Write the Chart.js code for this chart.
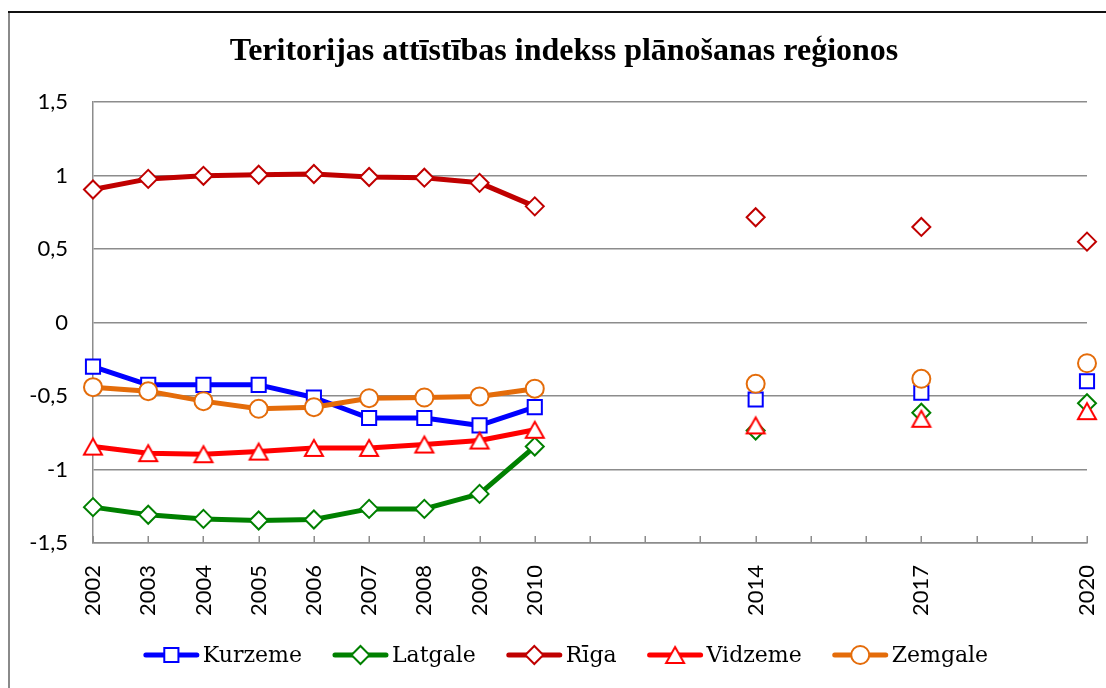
<!DOCTYPE html>
<html>
<head>
<meta charset="utf-8">
<script src="https://cdn.jsdelivr.net/npm/chart.js@4/dist/chart.umd.min.js"></script>
<style>
  html, body { margin: 0; padding: 0; background: #ffffff; }
  #wrap { width: 1106px; height: 688px; }
</style>
</head>
<body>
<div id="wrap"><canvas id="c" width="1106" height="688"></canvas></div>
<script>
// ---------- data ----------
const years = ['2002','2003','2004','2005','2006','2007','2008','2009','2010',
               '2011','2012','2013','2014','2015','2016','2017','2018','2019','2020'];
const tickLabels = ['2002','2003','2004','2005','2006','2007','2008','2009','2010','2014','2017','2020'];
const seriesNames = ['Kurzeme','Latgale','Rīga','Vidzeme','Zemgale'];

const kurzeme = [-0.30,-0.424,-0.424,-0.424,-0.51,-0.65,-0.65,-0.70,-0.576, null,null,null, -0.524, null,null, -0.478, null,null, -0.40];
const latgale = [-1.256,-1.308,-1.336,-1.347,-1.34,-1.268,-1.268,-1.166,-0.844, null,null,null, -0.735, null,null, -0.614, null,null, -0.549];
const riga    = [0.905,0.977,0.998,1.005,1.01,0.99,0.985,0.95,0.79, null,null,null, 0.716, null,null, 0.65, null,null, 0.55];
const vidzeme = [-0.844,-0.889,-0.896,-0.878,-0.853,-0.853,-0.83,-0.803,-0.73, null,null,null, -0.70, null,null, -0.655, null,null, -0.603];
const zemgale = [-0.44,-0.467,-0.535,-0.587,-0.576,-0.515,-0.51,-0.503,-0.45, null,null,null, -0.417, null,null, -0.383, null,null, -0.277];

const yTicks = [-1.5,-1,-0.5,0,0.5,1,1.5];
const titleText = 'Teritorijas attīstības indekss plānošanas reģionos';

// ---------- styles ----------
const colors = ['#0000FF','#008000','#C00000','#FF0000','#E46C0A'];

function triangleMarker(color) {
  const cv = document.createElement('canvas');
  cv.width = 24; cv.height = 24;
  const g = cv.getContext('2d');
  g.beginPath();
  g.moveTo(12, 4);
  g.lineTo(21, 20);
  g.lineTo(3, 20);
  g.closePath();
  g.fillStyle = '#ffffff';
  g.fill();
  g.lineWidth = 2;
  g.strokeStyle = color;
  g.lineJoin = 'miter';
  g.stroke();
  return cv;
}

const styles = [
  { pointStyle: 'rect', radius: 10 },
  { pointStyle: 'rectRot', radius: 9 },
  { pointStyle: 'rectRot', radius: 9 },
  { pointStyle: triangleMarker(colors[3]), radius: 10 },
  { pointStyle: 'circle', radius: 9 }
];
const seriesData = [kurzeme, latgale, riga, vidzeme, zemgale];

const datasets = seriesNames.map((name, i) => ({
  label: name,
  data: seriesData[i],
  borderColor: colors[i],
  backgroundColor: colors[i],
  borderWidth: 5,
  borderCapStyle: 'round',
  borderJoinStyle: 'round',
  tension: 0,
  spanGaps: false,
  pointStyle: styles[i].pointStyle,
  pointRadius: styles[i].radius,
  pointHoverRadius: styles[i].radius,
  pointBackgroundColor: '#ffffff',
  pointBorderColor: colors[i],
  pointBorderWidth: 2,
  order: seriesNames.length - i
}));

// ---------- plugins ----------
const bgPlugin = {
  id: 'bg',
  beforeDraw(chart) {
    const ctx = chart.ctx;
    ctx.save();
    ctx.fillStyle = '#ffffff';
    ctx.fillRect(0, 0, chart.width, chart.height);
    ctx.restore();
  },
  afterDraw(chart) {
    const ctx = chart.ctx;
    ctx.save();
    // title
    ctx.fillStyle = '#000000';
    ctx.font = 'bold 32px "Liberation Serif"';
    ctx.textAlign = 'center';
    ctx.textBaseline = 'middle';
    ctx.fillText(titleText, 564, 52);
    // frame
    ctx.strokeStyle = '#8a8a8a';
    ctx.lineWidth = 2;
    ctx.beginPath();
    ctx.moveTo(9, 12);
    ctx.lineTo(9, chart.height);
    ctx.stroke();
    ctx.strokeStyle = '#111111';
    ctx.beginPath();
    ctx.moveTo(8, 12);
    ctx.lineTo(chart.width, 12);
    ctx.stroke();
    ctx.restore();
  }
};

const innerTicks = {
  id: 'innerTicks',
  afterDatasetsDraw(chart) {
    const xs = chart.scales.x;
    const ctx = chart.ctx;
    const b = chart.chartArea.bottom;
    ctx.save();
    ctx.strokeStyle = '#8c8c8c';
    ctx.lineWidth = 1.5;
    for (let i = 0; i < years.length; i++) {
      const x = Math.round(xs.getPixelForTick(i)) + 0.25;
      ctx.beginPath();
      ctx.moveTo(x, b);
      ctx.lineTo(x, b - 7);
      ctx.stroke();
    }
    ctx.restore();
  }
};

const customLegend = {
  id: 'customLegend',
  afterDraw(chart) {
    const ctx = chart.ctx;
    ctx.save();
    ctx.font = '22px "DejaVu Serif"';
    ctx.textBaseline = 'middle';
    const lineLen = 55, gap = 4, itemGap = 31;
    const widths = chart.data.datasets.map(d => lineLen + gap + ctx.measureText(d.label).width);
    const total = widths.reduce((a, b) => a + b, 0) + itemGap * (widths.length - 1);
    let x = 566 - total / 2;
    const y = 655;
    chart.data.datasets.forEach((d, i) => {
      ctx.strokeStyle = d.borderColor;
      ctx.lineWidth = 5;
      ctx.lineCap = 'round';
      ctx.beginPath();
      ctx.moveTo(x + 2, y);
      ctx.lineTo(x + lineLen - 2, y);
      ctx.stroke();
      ctx.fillStyle = '#ffffff';
      ctx.strokeStyle = d.pointBorderColor;
      ctx.lineWidth = d.pointBorderWidth;
      Chart.helpers.drawPoint(ctx, {
        pointStyle: d.pointStyle, rotation: 0,
        radius: d.pointRadius, borderWidth: d.pointBorderWidth
      }, x + lineLen / 2, y);
      ctx.fillStyle = '#000000';
      ctx.textAlign = 'left';
      ctx.fillText(d.label, x + lineLen + gap, y + 1);
      x += widths[i] + itemGap;
    });
    ctx.restore();
  }
};

// ---------- chart ----------
new Chart(document.getElementById('c'), {
  type: 'line',
  data: { labels: years, datasets },
  plugins: [bgPlugin, innerTicks, customLegend],
  options: {
    responsive: false,
    animation: false,
    events: [],
    layout: { padding: { left: 0, right: 19, top: 102, bottom: 0 } },
    plugins: {
      legend: { display: false },
      tooltip: { enabled: false },
      title: { display: false }
    },
    scales: {
      x: {
        type: 'category',
        offset: false,
        grid: { display: true, drawOnChartArea: false, drawTicks: false },
        border: { display: true, color: '#8c8c8c', width: 1.5 },
        ticks: {
          autoSkip: false,
          maxRotation: 90,
          minRotation: 90,
          padding: 22,
          color: '#000000',
          font: { family: 'Lato', size: 22 },
          callback: function (v, i) {
            const lab = years[i];
            return tickLabels.includes(lab) ? lab : '';
          }
        },
        afterFit(scale) {
          scale.height = 145;
          scale.paddingLeft = 0;
          scale.paddingRight = 0;
        }
      },
      y: {
        min: -1.5,
        max: 1.5,
        afterBuildTicks(scale) { scale.ticks = yTicks.map(v => ({ value: v })); },
        grid: { color: '#8c8c8c', lineWidth: 1.5, drawTicks: false },
        border: { display: true, color: '#8c8c8c', width: 1.5 },
        ticks: {
          padding: 25,
          color: '#000000',
          font: { family: 'Lato', size: 22 },
          callback: v => String(v).replace('.', ',')
        },
        afterFit(scale) { scale.width = 93; }
      }
    }
  }
});
</script>
</body>
</html>
